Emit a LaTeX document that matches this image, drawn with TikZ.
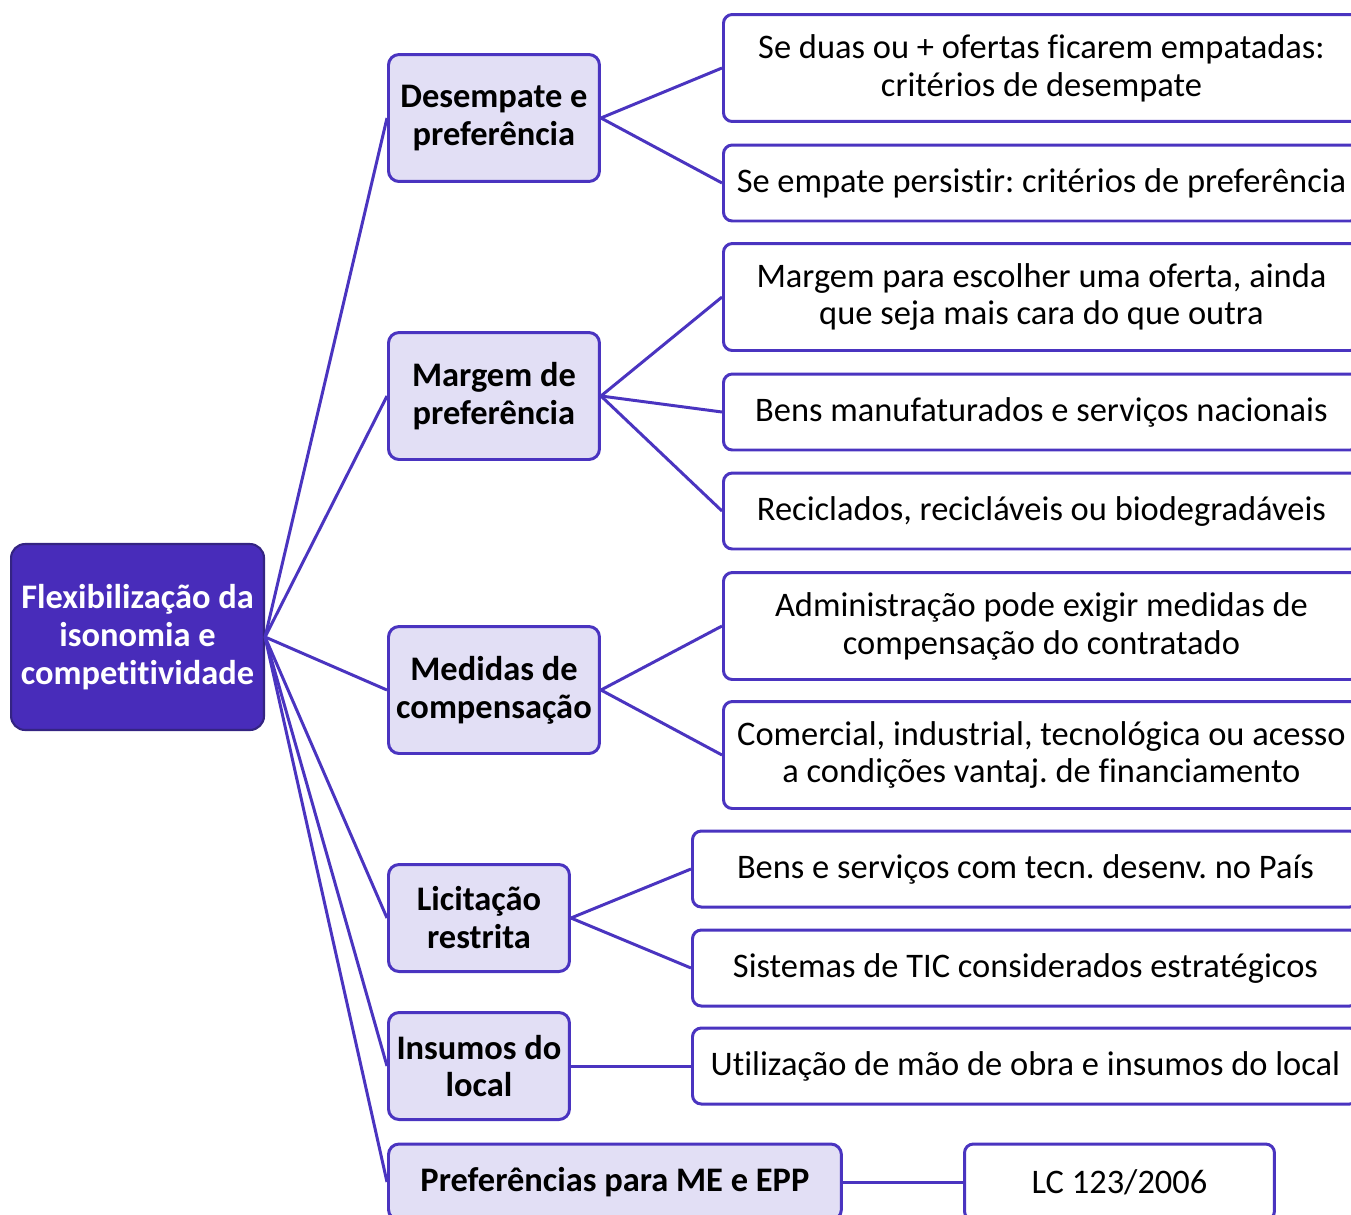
\documentclass[tikz,border=0pt]{standalone}
\usepackage{fontspec}
\setmainfont{Carlito}[Ligatures={NoCommon,NoContextual}]
\usetikzlibrary{positioning}
\definecolor{rootcolor}{RGB}{72, 44, 186}
\definecolor{rootborder}{RGB}{52, 36, 130}
\definecolor{linecolor}{RGB}{74, 52, 192}
\definecolor{topiccolor}{RGB}{226, 223, 245}
\newcommand{\mapfont}{\fontsize{19.6pt}{21.6pt}\selectfont\frenchspacing}

\begin{document}
\begin{tikzpicture}[
    x=0.02cm, y=-0.02cm,
    root/.style={rectangle, rounded corners=8pt, draw=rootborder, line width=1.2pt, fill=rootcolor, text=white, align=center, font=\bfseries\mapfont, inner xsep=1pt, minimum width=5.06cm, minimum height=3.72cm, anchor=west},
    topic/.style={rectangle, rounded corners=6pt, draw=linecolor, line width=1.7pt, fill=topiccolor, align=center, font=\bfseries\mapfont, inner xsep=2pt, anchor=west, minimum width=4.22cm, minimum height=2.54cm},
    leaf/.style={rectangle, rounded corners=5pt, draw=linecolor, line width=1.7pt, fill=white, align=center, font=\mapfont, inner xsep=2pt, anchor=west, minimum width=12.72cm, minimum height=1.52cm},
    link/.style={draw=linecolor, line width=1.7pt}
]

\useasboundingbox (0, 0) rectangle (1351, 1214);
\clip (0, 0) rectangle (1351, 1214);

% Root
\node[root] (root) at (10, 637) {Flexibilização da\\isonomia e\\competitividade};

% Topics
\node[topic] (desempate) at (387, 118) {Desempate e\\preferência};
\node[topic] (margem) at (387, 396) {Margem de\\preferência};
\node[topic] (medidas) at (387, 690) {Medidas de\\compensação};
\node[topic, minimum width=3.62cm, minimum height=2.14cm] (licitacao) at (387, 918) {Licitação\\restrita};
\node[topic, minimum width=3.62cm, minimum height=2.14cm] (insumos) at (387, 1066) {Insumos do\\local};
\node[topic, minimum width=9.06cm, minimum height=1.52cm] (mepp) at (387, 1182) {Preferências para ME e EPP};

% Details
\node[leaf, minimum height=2.14cm] (empate) at (722, 68) {Se duas ou + ofertas ficarem empatadas:\\critérios de desempate};
\node[leaf] (persiste) at (722, 183) {Se empate persistir: critérios de preferência};
\node[leaf, minimum height=2.14cm] (escolha) at (722, 297) {Margem para escolher uma oferta, ainda\\que seja mais cara do que outra};
\node[leaf] (nacionais) at (722, 412) {Bens manufaturados e serviços nacionais};
\node[leaf] (reciclados) at (722, 511) {Reciclados, recicláveis ou biodegradáveis};
\node[leaf, minimum height=2.14cm] (exigir) at (722, 626) {Administração pode exigir medidas de\\compensação do contratado};
\node[leaf, minimum height=2.14cm] (comercial) at (722, 755) {Comercial, industrial, tecnológica ou acesso\\a condições vantaj. de financiamento};
\node[leaf, minimum width=13.32cm] (tecn) at (691, 869) {Bens e serviços com tecn. desenv. no País};
\node[leaf, minimum width=13.32cm] (tic) at (691, 968) {Sistemas de TIC considerados estratégicos};
\node[leaf, minimum width=13.32cm] (maoobra) at (691, 1066) {Utilização de mão de obra e insumos do local};
\node[leaf, minimum width=6.2cm] (lc) at (963, 1182) {LC 123/2006};

% Connectors
\foreach \t in {desempate, margem, medidas, licitacao, insumos, mepp} {
    \draw[link] (root.east) -- (\t.west);
}
\draw[link] (desempate.east) -- (empate.west);
\draw[link] (desempate.east) -- (persiste.west);
\draw[link] (margem.east) -- (escolha.west);
\draw[link] (margem.east) -- (nacionais.west);
\draw[link] (margem.east) -- (reciclados.west);
\draw[link] (medidas.east) -- (exigir.west);
\draw[link] (medidas.east) -- (comercial.west);
\draw[link] (licitacao.east) -- (tecn.west);
\draw[link] (licitacao.east) -- (tic.west);
\draw[link] (insumos.east) -- (maoobra.west);
\draw[link] (mepp.east) -- (lc.west);

\end{tikzpicture}
\end{document}
